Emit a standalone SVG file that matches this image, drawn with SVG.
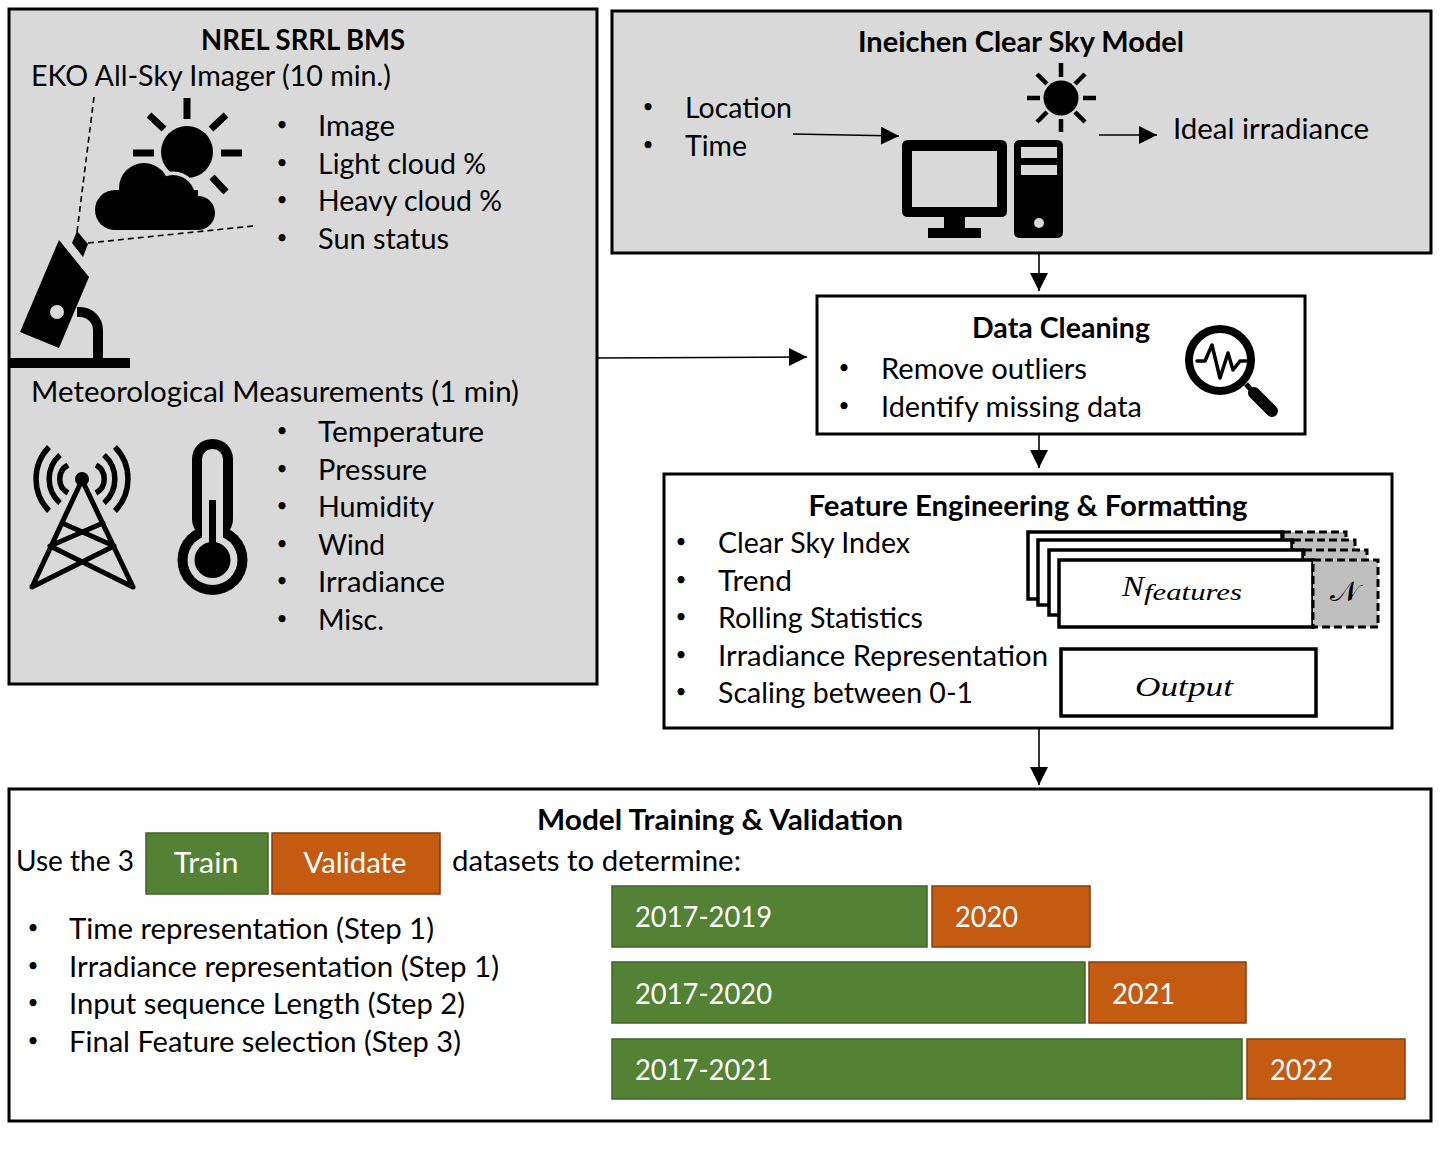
<svg xmlns="http://www.w3.org/2000/svg" width="1440" height="1170" viewBox="0 0 1440 1170">
<style>
text{font-family:"Lato","Carlito","Open Sans",sans-serif;font-size:28px;fill:#000;transform:translateY(.7px)}
.b{font-weight:700;text-anchor:middle}
.u{font-size:19px;text-anchor:middle}
.w{fill:#fff}.c{text-anchor:middle}
.m{font-family:"Liberation Serif","DejaVu Serif",serif;font-style:italic;font-size:28px}
.box{stroke:#000;stroke-width:3}
.g{fill:#d9d9d9}.wh{fill:#fff}
.gr{fill:#548235;stroke:#3f6328;stroke-width:1.5}
.or{fill:#c55a11;stroke:#843c0c;stroke-width:1.5}
.st{fill:#fff;stroke:#000;stroke-width:3.5}
.da{fill:#bfbfbf;stroke:#000;stroke-width:3;stroke-dasharray:8 4}
.ln{fill:none;stroke:#000;stroke-width:1.6}
.ray{stroke:#000;fill:none}
.dash{fill:none;stroke:#000;stroke-width:1.6;stroke-dasharray:6 4}
</style>
<defs><marker id="ah" markerUnits="userSpaceOnUse" markerWidth="20" markerHeight="20" refX="18" refY="9" orient="auto"><path d="M0 0L18 9L0 18Z" fill="#000"/></marker>
<g id="cloud"><circle cx="115" cy="210" r="20"/><circle cx="144" cy="188" r="25"/><circle cx="173" cy="197" r="22"/><circle cx="198" cy="213" r="17"/><rect x="115" y="190" width="83" height="40"/></g></defs>

<g id="bms">
<rect class="box g" x="9" y="9" width="588" height="675"/>
<text class="b" x="303" y="49" textLength="204" lengthAdjust="spacingAndGlyphs">NREL SRRL BMS</text>
<text x="31" y="85" textLength="360" lengthAdjust="spacingAndGlyphs">EKO All-Sky Imager (10 min.)</text>
<text class="u" x="282" y="130">•</text><text x="318" y="135" textLength="77" lengthAdjust="spacingAndGlyphs">Image</text>
<text class="u" x="282" y="168">•</text><text x="318" y="173" textLength="168" lengthAdjust="spacingAndGlyphs">Light cloud %</text>
<text class="u" x="282" y="205">•</text><text x="318" y="210" textLength="184" lengthAdjust="spacingAndGlyphs">Heavy cloud %</text>
<text class="u" x="282" y="243">•</text><text x="318" y="248" textLength="131" lengthAdjust="spacingAndGlyphs">Sun status</text>
<g class="ray" stroke-width="7"><circle cx="187" cy="152" r="26" fill="#000" stroke="none"/><path d="M187 98V119M133 153H154M221 153H242M149 115L164 129M226 115L211 129M212 177L226 192"/></g>
<use href="#cloud" fill="#d9d9d9" stroke="#d9d9d9" stroke-width="7"/><use href="#cloud" fill="#000"/>
<path class="dash" d="M94 97L77 232M88 243L253 226"/>
<path d="M77 231L88 244L83 257L72 243Z"/>
<path d="M59 240L89 277L59 348L20 332Z"/>
<circle cx="57" cy="312" r="7" fill="#d9d9d9"/>
<path d="M77 312H80A18 18 0 0 1 98 330V360" fill="none" stroke="#000" stroke-width="10"/>
<rect x="10" y="358" width="120" height="10"/>
<text x="31" y="401" textLength="488" lengthAdjust="spacingAndGlyphs">Meteorological Measurements (1 min)</text>
<text class="u" x="282" y="436">•</text><text x="318" y="441" textLength="166" lengthAdjust="spacingAndGlyphs">Temperature</text>
<text class="u" x="282" y="474">•</text><text x="318" y="479" textLength="109" lengthAdjust="spacingAndGlyphs">Pressure</text>
<text class="u" x="282" y="511">•</text><text x="318" y="516" textLength="116" lengthAdjust="spacingAndGlyphs">Humidity</text>
<text class="u" x="282" y="549">•</text><text x="318" y="554" textLength="67" lengthAdjust="spacingAndGlyphs">Wind</text>
<text class="u" x="282" y="586">•</text><text x="318" y="591" textLength="127" lengthAdjust="spacingAndGlyphs">Irradiance</text>
<text class="u" x="282" y="624">•</text><text x="318" y="629" textLength="66" lengthAdjust="spacingAndGlyphs">Misc.</text>
<g fill="none" stroke="#000" stroke-width="5" stroke-linecap="round" stroke-linejoin="round"><path d="M32 587L82 480L133 587M32 587L114 546M133 587L50 546M50 546L103 523M114 546L62 523"/></g>
<circle cx="82" cy="479" r="7"/>
<g fill="none" stroke="#000" stroke-width="5.500"><path d="M68 465A16 16 0 0 0 68 493M96 465A16 16 0 0 1 96 493M60 455A32 32 0 0 0 60 503M104 455A32 32 0 0 1 104 503M49 447A46 46 0 0 0 49 511M115 447A46 46 0 0 1 115 511"/></g>
<rect x="192" y="439" width="41" height="100" rx="20"/><circle cx="212.500" cy="560" r="35"/>
<rect x="202" y="449" width="21" height="100" rx="10" fill="#d9d9d9"/><circle cx="212.500" cy="560" r="25" fill="#d9d9d9"/>
<circle cx="212.500" cy="560" r="18"/><rect x="209" y="500" width="7" height="50"/>
</g>

<g id="clear-sky">
<rect class="box g" x="612" y="11" width="819" height="242"/>
<text class="b" x="1021" y="51" textLength="326" lengthAdjust="spacingAndGlyphs">Ineichen Clear Sky Model</text>
<text class="u" x="648" y="112">•</text><text x="685" y="117" textLength="107" lengthAdjust="spacingAndGlyphs">Location</text>
<text class="u" x="648" y="150">•</text><text x="685" y="155" textLength="62" lengthAdjust="spacingAndGlyphs">Time</text>
<text x="1173" y="138" textLength="196" lengthAdjust="spacingAndGlyphs">Ideal irradiance</text>
<circle cx="1061" cy="98" r="17.500"/>
<path class="ray" stroke-width="4.500" d="M1061 63V77M1061 119V132M1027 98H1040M1083 98H1096M1037 74L1047 84M1085 74L1075 84M1037 122L1047 112M1085 122L1075 112"/>
<path fill-rule="evenodd" d="M908 140H1001Q1007 140 1007 146V211Q1007 217 1001 217H965V228H981V238H928V228H944V217H908Q902 217 902 211V146Q902 140 908 140ZM912 151V207H997V151Z"/>
<path fill-rule="evenodd" d="M1020 140H1057Q1063 140 1063 146V232Q1063 238 1057 238H1020Q1014 238 1014 232V146Q1014 140 1020 140ZM1021 147V158H1057V147ZM1021 165V175H1057V165Z"/>
<circle cx="1039" cy="223" r="5" fill="#d9d9d9"/>
</g>

<g id="data-cleaning">
<rect class="box wh" x="817" y="296" width="488" height="138"/>
<text class="b" x="1061" y="337" textLength="178" lengthAdjust="spacingAndGlyphs">Data Cleaning</text>
<text class="u" x="844" y="373">•</text><text x="881" y="378" textLength="206" lengthAdjust="spacingAndGlyphs">Remove outliers</text>
<text class="u" x="844" y="411">•</text><text x="881" y="416" textLength="261" lengthAdjust="spacingAndGlyphs">Identify missing data</text>
<circle cx="1220" cy="360" r="31" fill="none" stroke="#000" stroke-width="8"/>
<path d="M1197 361H1205L1212 345L1220 378L1228 353L1233 370L1240 361H1246" fill="none" stroke="#000" stroke-width="3.500" stroke-linejoin="round" stroke-linecap="round"/>
<path d="M1246 384L1254 393" stroke="#000" stroke-width="5"/>
<path d="M1254 393L1272 411" stroke="#000" stroke-width="12" stroke-linecap="round"/>
</g>

<g id="feature-engineering">
<rect class="box wh" x="664" y="474" width="728" height="254"/>
<text class="b" x="1028" y="515" textLength="439" lengthAdjust="spacingAndGlyphs">Feature Engineering &amp; Formatting</text>
<text class="u" x="681" y="547">•</text><text x="718" y="552" textLength="192" lengthAdjust="spacingAndGlyphs">Clear Sky Index</text>
<text class="u" x="681" y="585">•</text><text x="718" y="590" textLength="74" lengthAdjust="spacingAndGlyphs">Trend</text>
<text class="u" x="681" y="622">•</text><text x="718" y="627" textLength="205" lengthAdjust="spacingAndGlyphs">Rolling Statistics</text>
<text class="u" x="681" y="660">•</text><text x="718" y="665" textLength="330" lengthAdjust="spacingAndGlyphs">Irradiance Representation</text>
<text class="u" x="681" y="697">•</text><text x="718" y="702" textLength="255" lengthAdjust="spacingAndGlyphs">Scaling between 0-1</text>
<rect class="st" x="1028" y="532" width="254" height="67"/><rect class="da" x="1283" y="532" width="63" height="30"/>
<rect class="st" x="1038" y="540" width="254" height="65"/><rect class="da" x="1293" y="540" width="62" height="30"/>
<rect class="st" x="1049" y="550" width="254" height="65"/><rect class="da" x="1304" y="550" width="63" height="30"/>
<rect class="st" x="1059" y="560" width="254" height="67"/><rect class="da" x="1313" y="560" width="65" height="67"/>
<text class="m" x="1122" y="595" textLength="22" lengthAdjust="spacingAndGlyphs" style="font-size:30px">N</text><text class="m" x="1144" y="599" textLength="98" lengthAdjust="spacingAndGlyphs" style="font-size:23px">features</text>
<text class="c" x="1344" y="600" textLength="29" lengthAdjust="spacingAndGlyphs" style="font-family:'Liberation Serif','DejaVu Serif',serif;font-size:28px">𝒩</text>
<rect class="st" x="1061" y="649" width="255" height="67"/>
<text class="m c" x="1184" y="695" textLength="98" lengthAdjust="spacingAndGlyphs">Output</text>
</g>

<g id="training">
<rect class="box wh" x="9" y="789" width="1422" height="332"/>
<text class="b" x="720" y="829" textLength="366" lengthAdjust="spacingAndGlyphs">Model Training &amp; Validation</text>
<text x="16" y="870" textLength="118" lengthAdjust="spacingAndGlyphs">Use the 3</text>
<rect class="gr" x="146" y="833" width="122" height="61"/><text class="w c" x="206" y="872" textLength="65" lengthAdjust="spacingAndGlyphs">Train</text>
<rect class="or" x="272" y="833" width="168" height="61"/><text class="w c" x="355" y="872" textLength="103" lengthAdjust="spacingAndGlyphs">Validate</text>
<text x="452" y="870" textLength="289" lengthAdjust="spacingAndGlyphs">datasets to determine:</text>
<text class="u" x="33" y="933">•</text><text x="69" y="938" textLength="365" lengthAdjust="spacingAndGlyphs">Time representation (Step 1)</text>
<text class="u" x="33" y="971">•</text><text x="69" y="976" textLength="430" lengthAdjust="spacingAndGlyphs">Irradiance representation (Step 1)</text>
<text class="u" x="33" y="1008">•</text><text x="69" y="1013" textLength="396" lengthAdjust="spacingAndGlyphs">Input sequence Length (Step 2)</text>
<text class="u" x="33" y="1046">•</text><text x="69" y="1051" textLength="392" lengthAdjust="spacingAndGlyphs">Final Feature selection (Step 3)</text>
<rect class="gr" x="612" y="886" width="315" height="61"/><text class="w" x="635" y="926" textLength="137" lengthAdjust="spacingAndGlyphs">2017-2019</text>
<rect class="or" x="932" y="886" width="158" height="61"/><text class="w" x="955" y="926" textLength="63" lengthAdjust="spacingAndGlyphs">2020</text>
<rect class="gr" x="612" y="962" width="473" height="61"/><text class="w" x="635" y="1003" textLength="137" lengthAdjust="spacingAndGlyphs">2017-2020</text>
<rect class="or" x="1089" y="962" width="157" height="61"/><text class="w" x="1112" y="1003" textLength="63" lengthAdjust="spacingAndGlyphs">2021</text>
<rect class="gr" x="612" y="1039" width="630" height="60"/><text class="w" x="635" y="1079" textLength="137" lengthAdjust="spacingAndGlyphs">2017-2021</text>
<rect class="or" x="1247" y="1039" width="158" height="60"/><text class="w" x="1270" y="1079" textLength="63" lengthAdjust="spacingAndGlyphs">2022</text>
</g>

<g id="connectors">
<path class="ln" marker-end="url(#ah)" d="M793 134L899 136"/>
<path class="ln" marker-end="url(#ah)" d="M1099 135H1157"/>
<path class="ln" marker-end="url(#ah)" d="M598 358L807 357"/>
<path class="ln" marker-end="url(#ah)" d="M1039 254V291"/>
<path class="ln" marker-end="url(#ah)" d="M1039 435V468"/>
<path class="ln" marker-end="url(#ah)" d="M1039 729V785"/>
</g>
</svg>
